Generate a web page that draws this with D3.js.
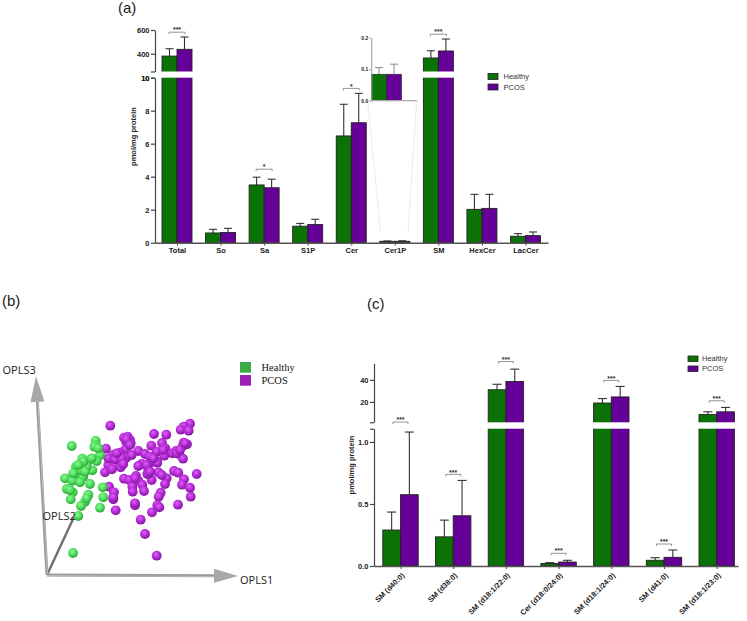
<!DOCTYPE html>
<html><head><meta charset="utf-8">
<script src="https://cdn.jsdelivr.net/npm/d3@7"></script>
<style>
html,body{margin:0;padding:0;background:#fff}
svg{display:block}
</style></head><body><div id="c"></div>
<script>
// ---- data: panel (a)
const catsA = ["Total","So","Sa","S1P","Cer","Cer1P","SM","HexCer","LacCer"];
const healthyA = [380,0.59,3.5,1.0,6.47,0.084,364,2.02,0.39];
const pcosA = [437,0.62,3.33,1.1,7.27,0.084,423,2.08,0.43];
const healthyErrA = [442,0.81,3.97,1.17,8.39,0.105,425,2.93,0.55];
const pcosErrA = [541,0.87,3.85,1.42,9.05,0.116,524,2.93,0.65];
const sigA = ["***","","*","","*","","***","",""];
const ticksALow = [0,2,4,6,8,10];
const ticksAHigh = [400,600];
const ticksInset = [0,0.1,0.2];
// ---- data: panel (c)
const catsC = ["SM (d40:0)","SM (d38:0)","SM (d18:1/22:0)","Cer (d18:0/24:0)","SM (d18:1/24:0)","SM (d41:0)","SM (d18:1/23:0)"];
const healthyC = [0.29,0.235,31,0.02,19,0.046,8.5];
const pcosC = [0.575,0.405,38.5,0.032,24.5,0.07,11];
const healthyErrC = [0.435,0.37,36,0.027,23,0.067,11];
const pcosErrC = [1.08,0.69,49.7,0.046,34,0.129,15];
const ticksCLow = [0,0.5,1.0];
const ticksCHigh = [20,40];
// ---- data: panel (b), score positions along the projected axes
const greenX = [24.7,48.7,48.7,47.3,53,49.7,35.3,41.3,39,29,45.3,29.7,36.3,18,25.3,33,43,19.7,25.7,23.7,41.3,38,34,55.7,56.3,53,31.3,26,39.7,33,36.3,44.7,31.3,26.3,38,23,39.7,51.3];
const greenY = [129,134,130,128.3,120,114,116.3,114.3,111,108.3,104.7,101,98.3,96.7,94.3,92.7,91,86,82.7,75.7,80.3,73.3,69,87.7,77.7,67.3,59,22,108.3,105,113.3,116.7,110,101.7,103.3,85,76.7,126.7];
const purpleX = [63.3,143,136.7,133.7,141.7,107,119.3,77,80.7,83,79,83.7,59,136.7,140,135.7,104.3,115,118.3,91.3,98,109.7,117.3,125.3,129,132.3,136,78,73,66.3,79,70.7,64.7,61.3,68,73.7,58,65,84.7,94.7,91.3,109.7,103,101.3,100.3,111.3,127,131.3,149.7,77,82.3,89,91.3,104.7,119.7,118,137,135,143,143.7,85.3,85.7,95.3,97,62,67,66.3,68.7,88,113.7,111.7,110.3,112.3,105,131,93.7,98,109.7,114.7,103,66.3,88,110.3,129.7,101.3,79.7,61.3,68,74.7,69.7,76.3,99.7,103,106.3,83,133,116.3,88,138];
const purpleY = [149.3,151.3,148.3,145.3,144.3,141,140.3,137.3,138.3,135,133.3,131.7,126.3,132.3,130.7,129,129.3,132,126.7,124,121,123.3,119.3,121.7,124,120.7,116.3,125,122.3,120,117,115,115.7,110,110,107.7,102.7,105.7,120,111,109,114,112.3,105,101,102.7,104,102.3,101,96.3,95,99,94.3,95,96.7,91,95.7,90.3,87.3,78.3,88.3,83.3,90.3,84,88.3,82.7,75.7,64.7,69.7,82.3,78.3,69.7,67.7,62.7,70.3,55.3,41,19.3,100,118.3,77.7,71.7,112.3,121.7,101,135.7,116.7,115.7,116.7,121.7,111,110,103.3,116.7,130,125,125,96.7,131.7];
// ---- layout
const W=747,H=621, GREEN="#0b7305", PURPLE="#650098", DARK="#222", SANS='"Liberation Sans",Arial,sans-serif';
const svg=d3.select("#c").append("svg").attr("width",W).attr("height",H).attr("viewBox",[0,0,W,H]).attr("font-family",SANS);
const defs=svg.append("defs");
function grad(id,hi,mid,edge){
  const g=defs.append("radialGradient").attr("id",id).attr("cx","42%").attr("cy","36%").attr("r","62%");
  g.append("stop").attr("offset","0%").attr("stop-color",hi);
  g.append("stop").attr("offset","55%").attr("stop-color",mid);
  g.append("stop").attr("offset","100%").attr("stop-color",edge);
}
grad("gGreen","#8cf596","#4fe05c","#2fa53a");
grad("gPurple","#e060f5","#b52cd8","#86189f");

function axisStyle(g,color,fs,sw){
  g.selectAll(".domain").attr("stroke",color).attr("stroke-width",sw);
  g.selectAll(".tick line").attr("stroke",color).attr("stroke-width",sw);
  g.selectAll("text").attr("fill","#222").attr("font-size",fs).attr("font-weight","bold").attr("font-family",SANS);
}
function barChart(cfg){
  const root=svg.append("g");
  const x=d3.scalePoint().domain(cfg.cats).range(cfg.xRange);
  const y=d3.scaleLinear().domain(cfg.yDomain).range(cfg.yRange);
  const bw=cfg.barW;
  const series=[{v:cfg.h,e:cfg.he,c:GREEN,dx:-bw},{v:cfg.p,e:cfg.pe,c:PURPLE,dx:0}];
  series.forEach(s=>{
    const g=root.append("g").selectAll("g").data(cfg.cats).join("g").attr("stroke","#333").attr("stroke-width",1.1);
    g.append("line").attr("x1",(d)=>x(d)+s.dx+bw/2).attr("x2",(d)=>x(d)+s.dx+bw/2)
      .attr("y1",(d,i)=>y(s.v[i])).attr("y2",(d,i)=>y(s.e[i]));
    g.append("line").attr("x1",(d)=>x(d)+s.dx+bw/2-cfg.cap).attr("x2",(d)=>x(d)+s.dx+bw/2+cfg.cap)
      .attr("y1",(d,i)=>y(s.e[i])).attr("y2",(d,i)=>y(s.e[i]));
  });
  series.forEach(s=>{
    root.append("g").selectAll("rect").data(cfg.cats).join("rect")
      .attr("x",d=>x(d)+s.dx).attr("width",bw)
      .attr("y",(d,i)=>y(s.v[i])).attr("height",(d,i)=>y(0)-y(s.v[i]))
      .attr("fill",s.c).attr("stroke",DARK).attr("stroke-width",0.9);
  });
  root.append("rect").attr("x",cfg.xAxis-1).attr("width",cfg.xEnd-cfg.xAxis+2)
    .attr("y",y(cfg.yDomain[2])).attr("height",y(cfg.yDomain[1])-y(cfg.yDomain[2])).attr("fill","#fff");
  const low=d3.scaleLinear().domain(cfg.yDomain.slice(0,2)).range(cfg.yRange.slice(0,2));
  const high=d3.scaleLinear().domain(cfg.yDomain.slice(2,4)).range(cfg.yRange.slice(2,4));
  const gl=root.append("g").attr("transform",`translate(${cfg.xAxis},0)`)
    .call(d3.axisLeft(low).tickValues([...cfg.lowTicks,cfg.yDomain[1]]).tickFormat(d=>cfg.lowTicks.includes(d)?cfg.lowFmt(d):"").tickSize(4).tickSizeOuter(0).tickPadding(1.5));
  axisStyle(gl,"#444",cfg.fs,1.2);
  const gh=root.append("g").attr("transform",`translate(${cfg.xAxis},0)`)
    .call(d3.axisLeft(high).tickValues([cfg.yDomain[2],...cfg.highTicks]).tickFormat(d=>cfg.highTicks.includes(d)?d:"").tickSize(4).tickSizeOuter(0).tickPadding(1.5));
  axisStyle(gh,"#444",cfg.fs,1.2);
  const gx=root.append("g").attr("transform",`translate(0,${cfg.yRange[0]})`)
    .call(d3.axisBottom(d3.scaleLinear().domain([cfg.xAxis,cfg.xEnd]).range([cfg.xAxis,cfg.xEnd])).tickValues(cfg.cats.map(c=>x(c))).tickFormat((d,i)=>cfg.cats[i]).tickSize(3).tickSizeOuter(0).tickPadding(2));
  axisStyle(gx,"#555",cfg.fs,1.5);
  gx.selectAll(".tick line").attr("stroke-width",1);
  if(cfg.rotate){
    gx.selectAll("text").attr("text-anchor","end").attr("dy",0).attr("y",0)
      .attr("transform","translate(4,10) rotate(-45)");
  }
  root.append("text").attr("transform",`translate(${cfg.titleX},${cfg.titleY}) rotate(-90)`)
    .attr("text-anchor","middle").attr("font-size",cfg.fs).attr("font-weight","bold").attr("fill","#222").text("pmol/mg protein");
  cfg.cats.forEach((c,i)=>{
    if(!cfg.sig[i])return;
    const top=Math.min(y(cfg.pe[i]),y(cfg.he[i]))-cfg.gap[i];
    const cx=x(c), hw=cfg.brW;
    root.append("path").attr("d",`M${cx-hw},${top+2}V${top}H${cx+hw}V${top+2}`).attr("fill","none").attr("stroke","#666").attr("stroke-width",0.7);
    root.append("text").attr("x",cx).attr("y",top+0.2).attr("text-anchor","middle").attr("font-size",7).attr("font-weight","bold").attr("fill","#333").text(cfg.sig[i]);
  });
  return {x,y};
}
function legend(x,y1,y2,tx,sw,sh){
  [["Healthy",GREEN,y1],["PCOS",PURPLE,y2]].forEach(([t,c,y])=>{
    svg.append("rect").attr("x",x).attr("y",y).attr("width",sw).attr("height",sh).attr("fill",c).attr("stroke",DARK).attr("stroke-width",0.8);
    svg.append("text").attr("x",tx).attr("y",y+sh/2+2.6).attr("font-size",7.5).attr("fill","#333").text(t);
  });
}
// panel a
const A=barChart({cats:catsA,h:healthyA,p:pcosA,he:healthyErrA,pe:pcosErrA,sig:sigA,
  xRange:[177,525.5],barW:15,cap:4,xAxis:155,xEnd:548,
  yDomain:[0,10,250,600],yRange:[242.7,77.7,71.5,30],lowTicks:ticksALow,highTicks:ticksAHigh,lowFmt:d=>d,
  fs:7.5,titleX:135.6,titleY:136.5,gap:[4.8,0,8,0,5,0,4.8,0,0],brW:8});
legend(488,73.5,84,503.5,10,6);
// inset for Cer1P
const iy=d3.scaleLinear().domain([0,0.2]).range([100.7,37.7]);
const ix0=371.5, ibw=15, iIdx=catsA.indexOf("Cer1P");
const inset=svg.append("g");
inset.append("path").attr("d",`M367.7,${iy(0)+1}L380.7,233M416.7,${iy(0)+1}L408,233`).attr("stroke","#ccc").attr("stroke-width",0.8).attr("stroke-dasharray","1.2,1.2").attr("fill","none");
[[healthyA[iIdx],healthyErrA[iIdx],GREEN,0],[pcosA[iIdx],pcosErrA[iIdx],PURPLE,1]].forEach(([v,e,c,k])=>{
  const cx=ix0+ibw*k+ibw/2;
  inset.append("path").attr("d",`M${cx},${iy(v)}V${iy(e)}M${cx-4},${iy(e)}H${cx+4}`).attr("stroke","#888").attr("stroke-width",1).attr("fill","none");
  inset.append("rect").attr("x",ix0+ibw*k).attr("width",ibw).attr("y",iy(v)).attr("height",iy(0)-iy(v)).attr("fill",c).attr("stroke",DARK).attr("stroke-width",0.6);
});
const ig=inset.append("g").attr("transform","translate(371.3,0)")
  .call(d3.axisLeft(iy).tickValues(ticksInset).tickFormat(d3.format(".1f")).tickSize(2).tickSizeOuter(0).tickPadding(1));
axisStyle(ig,"#999",5,1);
inset.append("line").attr("x1",371.3).attr("x2",416.7).attr("y1",iy(0)).attr("y2",iy(0)).attr("stroke","#aaa").attr("stroke-width",1.3);
// panel c
barChart({cats:catsC,h:healthyC,p:pcosC,he:healthyErrC,pe:pcosErrC,sig:catsC.map(()=>"***"),
  xRange:[400.5,716.7],barW:17.7,cap:4.5,xAxis:374,xEnd:738,
  yDomain:[0,1.107,1.5,55],yRange:[566,428.7,422.3,363.3],lowTicks:ticksCLow,highTicks:ticksCHigh,lowFmt:d3.format(".1f"),
  fs:7.5,titleX:354,titleY:465,gap:[10,6,7.6,7,6,6,6.6],brW:7.5,rotate:true});
legend(688,356,366,702,10,5.5);
// panel labels
[["(a)",118,13],["(b)",2,306],["(c)",367,309]].forEach(([t,x,y])=>svg.append("text").attr("x",x).attr("y",y).attr("font-size",15).attr("fill","#222").text(t));
// panel b
const sx=d3.scaleLinear().domain([0,100]).range([47,147]);
const sy=d3.scaleLinear().domain([0,100]).range([575,475]);
function arrow(x1,y1,x2,y2,headLen,headW){
  const a=Math.atan2(y2-y1,x2-x1),nx=-Math.sin(a),ny=Math.cos(a);
  const bx=x2-Math.cos(a)*headLen,by=y2-Math.sin(a)*headLen;
  svg.append("line").attr("x1",x1).attr("y1",y1).attr("x2",bx).attr("y2",by).attr("stroke","#999").attr("stroke-width",3);
  svg.append("line").attr("x1",x1+nx*.6).attr("y1",y1+ny*.6).attr("x2",bx+nx*.6).attr("y2",by+ny*.6).attr("stroke","#bbb").attr("stroke-width",1);
  svg.append("path").attr("d",`M${x2},${y2}L${bx+nx*headW},${by+ny*headW}L${bx-nx*headW},${by-ny*headW}Z`).attr("fill","#a8a8a8");
}
svg.append("line").attr("x1",47).attr("y1",575).attr("x2",74).attr("y2",517).attr("stroke","#707070").attr("stroke-width",2.4);
arrow(47,575,36,376,26,7);
arrow(47,575,238,576,24,7);
const pts=[...purpleX.map((d,i)=>({x:d,y:purpleY[i],f:"url(#gPurple)"})),...greenX.map((d,i)=>({x:d,y:greenY[i],f:"url(#gGreen)"}))];
svg.append("g").selectAll("circle").data(pts).join("circle")
  .attr("cx",d=>sx(d.x)).attr("cy",d=>sy(d.y)).attr("r",4.9).attr("fill",d=>d.f);
[["OPLS3",2.5,374],["OPLS2",42.5,520],["OPLS1",240,584]].forEach(([t,x,y])=>svg.append("text").attr("x",x).attr("y",y).attr("font-size",11).attr("font-family",'"Open Sans"').attr("fill","#222").text(t));
[["Healthy","#3cab46",362],["PCOS","#9b1fb0",375]].forEach(([t,c,y])=>{
  svg.append("rect").attr("x",240).attr("y",y).attr("width",11).attr("height",10.7).attr("fill",c);
  svg.append("text").attr("x",261.5).attr("y",y+9).attr("font-size",10.5).attr("font-family",'"Liberation Serif"').attr("fill","#111").text(t);
});
</script></body></html>
